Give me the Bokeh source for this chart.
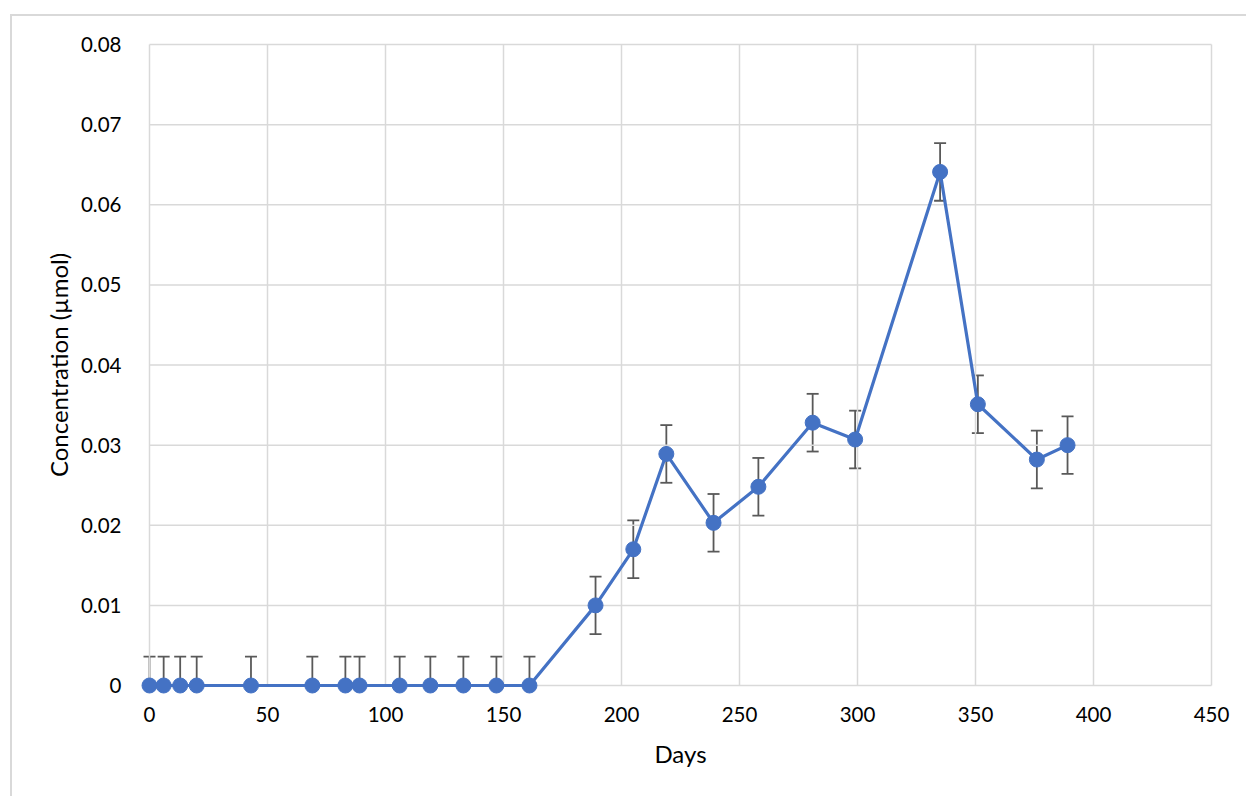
from bokeh.plotting import figure
from bokeh.models import Whisker, ColumnDataSource, TeeHead, FixedTicker, Range1d
from bokeh.embed import file_html
from bokeh.resources import INLINE

days = [0, 6, 13, 20, 43, 69, 83, 89, 106, 119, 133, 147, 161,
        189, 205, 219, 239, 258, 281, 299, 335, 351, 376, 389]
conc = [0, 0, 0, 0, 0, 0, 0, 0, 0, 0, 0, 0, 0,
        0.0100, 0.0170, 0.0289, 0.0203, 0.0248, 0.0328, 0.0307, 0.0641, 0.0351, 0.0282, 0.0300]
err = [0.0036] * 24
x_ticks = [0, 50, 100, 150, 200, 250, 300, 350, 400, 450]
y_ticks = [0, 0.01, 0.02, 0.03, 0.04, 0.05, 0.06, 0.07, 0.08]
y_tick_labels = ["0", "0.01", "0.02", "0.03", "0.04", "0.05", "0.06", "0.07", "0.08"]

FONT = "Lato"
GRID = "#d9d9d9"
TXT = "#000000"

X0, X1 = x_ticks[0], x_ticks[-1]
Y0, Y1 = y_ticks[0], y_ticks[-1]
PADPX = 10
PW, PH = 1062, 641
xpad = PADPX * (X1 - X0) / PW
ypad = PADPX * (Y1 - Y0) / PH

# canvas origin on page (after css margin + border)
OX, OY = 12, 16

src = ColumnDataSource(dict(
    x=days, y=conc,
    upper=[c + e for c, e in zip(conc, err)],
    lower=[max(c - e, Y0) for c, e in zip(conc, err)],
))

W, H = 1248 - OX, 798 - OY
p = figure(width=W, height=H, output_backend="svg", toolbar_location=None,
           x_range=Range1d(X0 - xpad, X1 + xpad), y_range=Range1d(Y0 - ypad, Y1 + ypad),
           min_border_left=149 - PADPX - OX, min_border_right=(OX + W) - (1211 + PADPX),
           min_border_top=44 - PADPX - OY, min_border_bottom=(OY + H) - (685 + PADPX))

p.styles = {"margin-left": "10px", "margin-top": "14px",
            "border-left": "2px solid #d9d9d9", "border-top": "2px solid #d9d9d9"}

p.outline_line_color = None
p.xgrid.grid_line_color = None
p.ygrid.grid_line_color = None

p.segment(x0=x_ticks, x1=x_ticks, y0=[Y0] * len(x_ticks), y1=[Y1] * len(x_ticks),
          line_color=GRID, line_width=1.5)
p.segment(x0=[X0] * len(y_ticks), x1=[X1] * len(y_ticks), y0=y_ticks, y1=y_ticks,
          line_color=GRID, line_width=1.5)

p.xaxis.ticker = FixedTicker(ticks=x_ticks)
p.yaxis.ticker = FixedTicker(ticks=y_ticks)
p.yaxis.major_label_overrides = {t: l for t, l in zip(y_ticks, y_tick_labels)}

for ax in (p.xaxis[0], p.yaxis[0]):
    ax.axis_line_color = None
    ax.major_tick_line_color = None
    ax.minor_tick_line_color = None
    ax.major_label_text_font = FONT
    ax.major_label_text_font_size = "20.5px"
    ax.major_label_text_color = TXT
    ax.axis_label_text_font = FONT
    ax.axis_label_text_font_size = "24px"
    ax.axis_label_text_font_style = "normal"
    ax.axis_label_text_color = TXT

p.xaxis.major_label_standoff = 5
p.yaxis.major_label_standoff = 12
p.xaxis.axis_label = "Days"
p.yaxis.axis_label = "Concentration (µmol)"
p.xaxis.axis_label_standoff = 14
p.yaxis.axis_label_standoff = 5

w = Whisker(source=src, base="x", upper="upper", lower="lower", dimension="height",
            line_color="#595959", line_width=1.8,
            upper_head=TeeHead(size=12, line_color="#595959", line_width=1.8),
            lower_head=TeeHead(size=12, line_color="#595959", line_width=1.8))
p.add_layout(w)

p.line("x", "y", source=src, line_color="#4472C4", line_width=3.2)
p.scatter("x", "y", source=src, size=15, fill_color="#4472C4", line_color="#4472C4")

p.background_fill_color = "white"
p.border_fill_color = "white"

html = file_html(p, INLINE)
open("out.html", "w").write(html)
